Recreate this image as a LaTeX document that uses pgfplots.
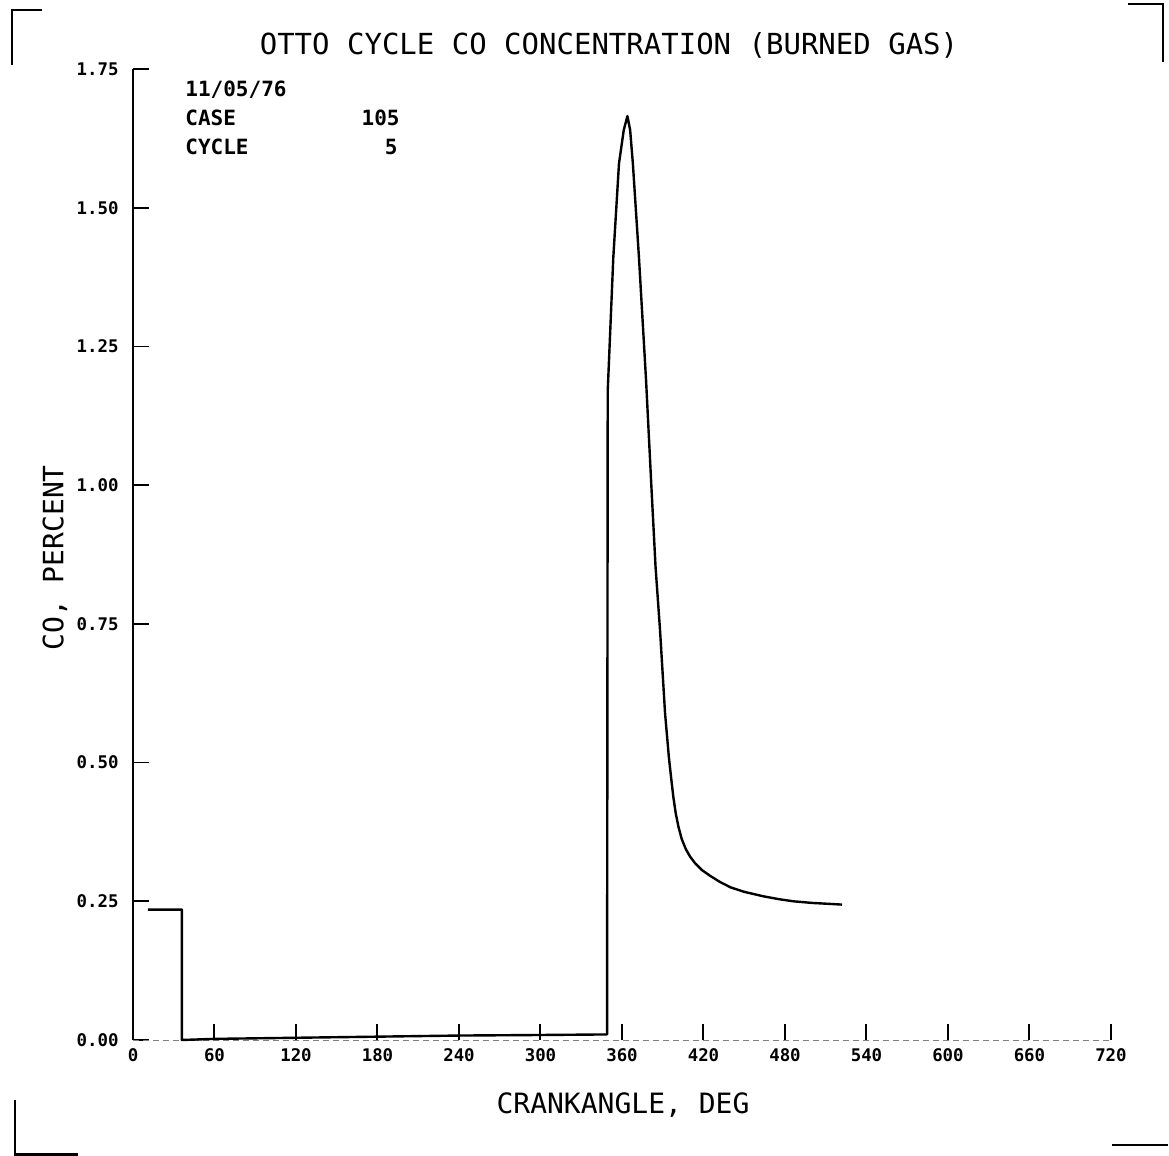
\documentclass[border=0pt]{standalone}
\usepackage{fontspec}
\usepackage{pgfplots}
\pgfplotsset{compat=1.18}
\newfontfamily\plotfont{DejaVu Sans Mono}
\begin{document}
\begin{tikzpicture}[x=1pt,y=1pt]
\useasboundingbox (0,0) rectangle (584.5,578);
\begin{axis}[
  at={(66.5pt,58pt)}, anchor=south west,
  scale only axis, width=489pt, height=485.5pt,
  xmin=0, xmax=720, ymin=0, ymax=1.75,
  axis lines*=left,
  x axis line style={gray, densely dashed, thin},
  y axis line style={black, line width=1.2pt},
  xtick={0,60,...,720},
  ytick={0,0.25,...,1.75},
  tick align=inside,
  major tick length=8pt,
  xtick style={black, line width=1pt},
  ytick style={black, line width=0.8pt},
  /pgf/number format/assume math mode=true,
  xticklabel style={font=\plotfont\bfseries\fontsize{8.7}{9}\selectfont, inner sep=0pt, yshift=-4pt},
  yticklabel style={font=\plotfont\bfseries\fontsize{8.7}{9}\selectfont, inner sep=0pt, xshift=-7pt,
    /pgf/number format/.cd, fixed, fixed zerofill, precision=2},
  xticklabel style={/pgf/number format/.cd, fixed, precision=0},
  scaled y ticks=false,
  clip=false,
]
\addplot[black, line width=1.2pt, line join=round] coordinates {
(11,0.235) (36,0.235) (36,0.0) (60,0.002) (120,0.004) (180,0.006) (240,0.008)
(300,0.009) (349,0.010) (349.5,1.17) (353.6,1.41) (357.8,1.58) (361.3,1.64)
(364,1.665) (366,1.64) (368,1.58) (372.5,1.41) (377.7,1.19) (381.8,0.99)
(384.7,0.853) (388,0.739) (391.7,0.589) (394.5,0.51) (396.2,0.472) (397.8,0.438)
(399.6,0.408) (401.6,0.384) (404,0.362) (407,0.344) (410,0.331) (414,0.318)
(419,0.306) (424.8,0.296) (432,0.285) (440,0.275) (450,0.267) (464,0.259)
(475,0.254) (486,0.250) (500,0.247) (515,0.245) (522,0.244)
};
\end{axis}
\node[font=\plotfont\fontsize{14.5}{15}\selectfont] at (304.5,555.5) {OTTO CYCLE CO CONCENTRATION (BURNED GAS)};
\node[font=\plotfont\fontsize{14}{15}\selectfont] at (311.5,25.5) {CRANKANGLE, DEG};
\node[font=\plotfont\fontsize{14}{15}\selectfont, rotate=90] at (27.5,299) {CO, PERCENT};
\begin{scope}[font=\plotfont\bfseries\fontsize{10.5}{11}\selectfont]
\node[anchor=west, inner sep=0pt] at (92.5,533) {11/05/76};
\node[anchor=west, inner sep=0pt] at (92.5,519) {CASE};
\node[anchor=west, inner sep=0pt] at (92.5,504.5) {CYCLE};
\node[anchor=east, inner sep=0pt] at (200,519) {105};
\node[anchor=east, inner sep=0pt] at (199,504.5) {5};
\end{scope}
\draw[line width=1.2pt] (21,573) -- (6,573) -- (6,545.5);
\draw[line width=1.2pt] (564,576) -- (581.5,576) -- (581.5,547);
\draw[line width=1.2pt] (7.5,28) -- (7.5,0.8) -- (39,0.8);
\draw[line width=1.2pt] (556,5.5) -- (584,5.5);
\end{tikzpicture}
\end{document}
